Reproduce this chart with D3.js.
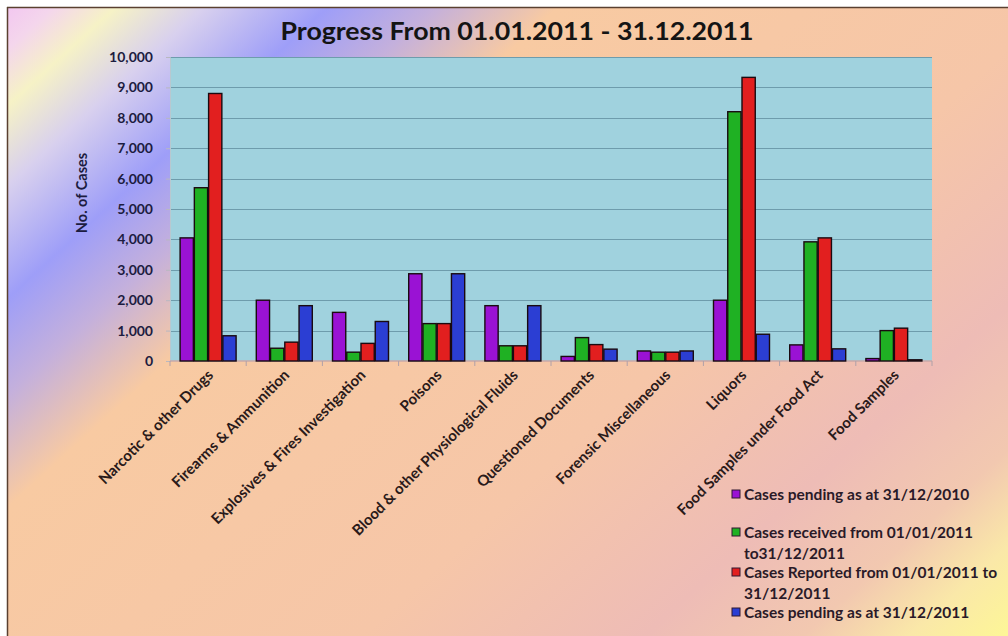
<!DOCTYPE html>
<html><head><meta charset="utf-8">
<script src="https://cdn.jsdelivr.net/npm/d3@7"></script>
<style>html,body{margin:0;padding:0;background:#fff;}svg{display:block;font-family:Lato,"Open Sans",sans-serif;}</style>
</head><body>
<svg id="c" width="1008" height="636"></svg>
<script>
const categories = ["Narcotic & other Drugs","Firearms & Ammunition","Explosives & Fires Investigation","Poisons","Blood & other Physiological Fluids","Questioned Documents","Forensic Miscellaneous","Liquors","Food Samples under Food Act","Food Samples"];
const pending2010 = [4050, 2000, 1600, 2870, 1820, 150, 330, 2000, 530, 80];
const received2011 = [5700, 420, 290, 1230, 500, 770, 290, 8200, 3920, 1000];
const reported2011 = [8800, 620, 580, 1230, 500, 540, 290, 9330, 4050, 1080];
const pending2011 = [830, 1820, 1300, 2870, 1820, 390, 330, 880, 400, 40];
const seriesNames = [["Cases pending as at 31/12/2010"],["Cases received from 01/01/2011","to31/12/2011"],["Cases Reported from 01/01/2011 to","31/12/2011"],["Cases pending as at 31/12/2011"]];
const seriesColors = ["#9a12d4","#1fb123","#e21f1f","#2b3ed3"];
const yTicks = [0,1000,2000,3000,4000,5000,6000,7000,8000,9000,10000];
const title = "Progress From 01.01.2011 - 31.12.2011";
const yLabel = "No. of Cases";

const series = [pending2010, received2011, reported2011, pending2011];
const svg = d3.select("#c");
const defs = svg.append("defs");
const g1 = defs.append("linearGradient").attr("id","bg").attr("gradientUnits","userSpaceOnUse")
  .attr("x1",0).attr("y1",0).attr("x2",800).attr("y2",880);
[[0,"#f2c2f2"],[0.035,"#f4d6ec"],[0.07,"#f6f2c6"],[0.12,"#d8d0ee"],[0.19,"#9e9ef8"],[0.25,"#c4b0dc"],[0.32,"#f8caa2"],[0.6,"#f6c6a8"],[0.76,"#eebcb6"],[0.85,"#f2c8b0"],[0.91,"#fae8a8"],[1,"#ffff8c"]]
  .forEach(([o,c])=>g1.append("stop").attr("offset",o).attr("stop-color",c));

svg.append("rect").attr("x",7).attr("y",7).attr("width",1001).attr("height",629).attr("fill","url(#bg)");
svg.append("line").attr("x1",7.5).attr("x2",7.5).attr("y1",7).attr("y2",636).attr("stroke","#5a4030").attr("stroke-width",1.5);
svg.append("line").attr("x1",7).attr("x2",1008).attr("y1",7.5).attr("y2",7.5).attr("stroke","#5a4030").attr("stroke-width",1.5);

const L=170,R=932,T=57,B=361;
const x0 = d3.scaleBand().domain(categories).range([L,R]).paddingInner(0.252).paddingOuter(0.126);
const x1 = d3.scaleBand().domain([0,1,2,3]).range([0,x0.bandwidth()]);
const y = d3.scaleLinear().domain([0,10000]).range([B,T]);

svg.append("rect").attr("x",L).attr("y",T).attr("width",R-L).attr("height",B-T).attr("fill","#a0d2de");
svg.append("g").selectAll("line").data(yTicks.filter(d=>d>0)).join("line")
  .attr("x1",L).attr("x2",R).attr("y1",d=>Math.round(y(d))+0.5).attr("y2",d=>Math.round(y(d))+0.5)
  .attr("stroke","#6e9cac").attr("stroke-width",1.2);

// y axis
const ya = svg.append("g").attr("transform",`translate(${L},0)`).call(d3.axisLeft(y).tickValues(yTicks).tickFormat(d3.format(",")).tickSize(4).tickPadding(13));
ya.select(".domain").attr("stroke","#b8c8d0");
ya.selectAll(".tick line").attr("stroke","#b8b8c0");
ya.selectAll("text").attr("font-family","Lato").attr("font-weight","bold").attr("font-size",14).attr("fill","#1c1c40");

// x axis
const xa = svg.append("g").attr("transform",`translate(0,${B})`);
xa.append("line").attr("x1",L).attr("x2",R).attr("stroke","#c8a8a8").attr("stroke-width",1.5);
xa.selectAll("line.t").data(d3.range(categories.length+1)).join("line").attr("class","t")
  .attr("x1",i=>L+i*x0.step()).attr("x2",i=>L+i*x0.step()).attr("y1",0).attr("y2",5).attr("stroke","#b0a0a8");
xa.selectAll("text").data(categories).join("text")
  .attr("transform",d=>`translate(${x0(d)+x0.bandwidth()/2+6},${15}) rotate(-45)`)
  .attr("text-anchor","end").attr("font-family","Lato").attr("font-weight","bold").attr("font-size",15)
  .attr("fill","#2a1a1a").text(d=>d);

// bars
const gb = svg.append("g").selectAll("g").data(categories).join("g").attr("transform",d=>`translate(${x0(d)},0)`);
gb.selectAll("rect").data((d,i)=>series.map((s,k)=>({k,v:s[i]}))).join("rect")
  .attr("x",d=>x1(d.k)+0.5).attr("width",x1.bandwidth()-1)
  .attr("y",d=>y(d.v)).attr("height",d=>B-y(d.v))
  .attr("fill",d=>seriesColors[d.k]).attr("stroke","#1a0a10").attr("stroke-width",1.4);

// title
svg.append("text").attr("x",517).attr("y",40).attr("text-anchor","middle").attr("font-family","Lato")
  .attr("font-weight","bold").attr("font-size",25).attr("fill","#141414").attr("textLength",473).attr("lengthAdjust","spacingAndGlyphs").text(title);

// y label
svg.append("text").attr("transform","translate(87,193) rotate(-90)").attr("text-anchor","middle")
  .attr("font-family","Lato").attr("font-weight","bold").attr("font-size",14.5).attr("fill","#1c1c40").text(yLabel);

// legend
const legY = [[495],[533,554],[573,594],[613]];
const lg = svg.append("g");
seriesNames.forEach((lines,k)=>{
  lg.append("rect").attr("x",732).attr("y",legY[k][0]-5).attr("width",8).attr("height",8)
    .attr("fill",seriesColors[k]).attr("stroke","#301830").attr("stroke-width",1);
  lines.forEach((t,j)=>{
    lg.append("text").attr("x",744).attr("y",legY[k][j]).attr("dy","0.35em")
      .attr("font-family","Lato").attr("font-weight","bold").attr("font-size",15.5).attr("fill","#2a1a28").text(t);
  });
});
</script>
</body></html>
